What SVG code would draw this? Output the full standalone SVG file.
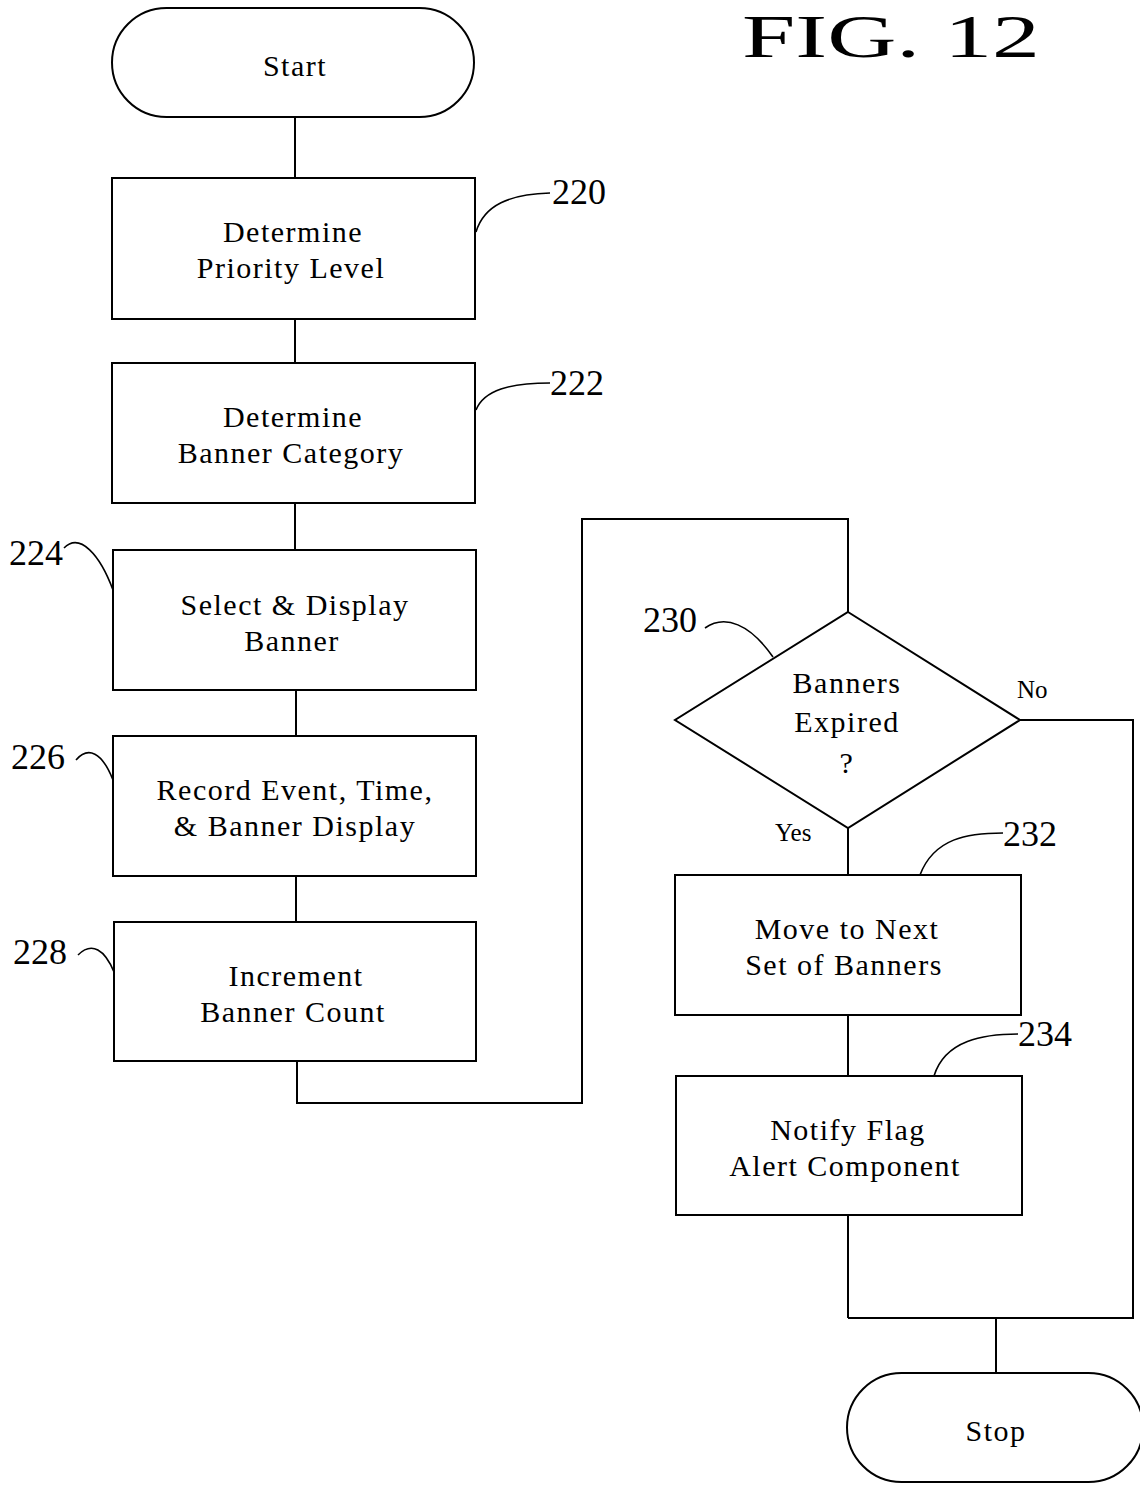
<svg xmlns="http://www.w3.org/2000/svg" width="1140" height="1485" viewBox="0 0 1140 1485">
<style>
.s{fill:#fff;stroke:#000;stroke-width:2}
.c{fill:none;stroke:#000;stroke-width:2}
.l{fill:none;stroke:#000;stroke-width:1.6}
.t{font-family:"Liberation Serif","Times New Roman",serif;font-size:30px;letter-spacing:1.5px;text-anchor:middle;fill:#000}
.r{font-family:"Liberation Serif","Times New Roman",serif;font-size:36px;fill:#000}
.y{font-family:"Liberation Serif","Times New Roman",serif;font-size:25px;fill:#000}
</style>
<rect width="1140" height="1485" fill="#fff"/>
<text x="742" y="57" font-family="Liberation Serif, Times New Roman, serif" font-size="62" textLength="298" lengthAdjust="spacingAndGlyphs">FIG. 12</text>
<g id="connectors">
<path class="c" d="M295,117 V178"/>
<path class="c" d="M295,319 V363"/>
<path class="c" d="M295,503 V550"/>
<path class="c" d="M296,690 V736"/>
<path class="c" d="M296,876 V922"/>
<path class="c" d="M297,1061 V1103 H582 V519 H848 V612"/>
<path class="c" d="M1020,720 H1133 V1318 H848"/>
<path class="c" d="M848,828 V875"/>
<path class="c" d="M848,1015 V1076"/>
<path class="c" d="M848,1215 V1318"/>
<path class="c" d="M996,1318 V1373"/>
<text class="y" x="1017" y="698">No</text>
<text class="y" x="775" y="841">Yes</text>
</g>
<g id="start">
<rect class="s" x="112" y="8" width="362" height="109" rx="54.5" ry="54.5"/>
<text class="t" x="295" y="76" letter-spacing="0">Start</text>
</g>
<g id="n220">
<rect class="s" x="112" y="178" width="363" height="141"/>
<text class="t" x="293" y="242">Determine</text>
<text class="t" x="291" y="278">Priority Level</text>
<path class="l" d="M476,232 C484,205 510,194 550,193"/>
<text class="r" x="552" y="204">220</text>
</g>
<g id="n222">
<rect class="s" x="112" y="363" width="363" height="140"/>
<text class="t" x="293" y="427">Determine</text>
<text class="t" x="291" y="463">Banner Category</text>
<path class="l" d="M476,410 C484,390 510,383 550,383"/>
<text class="r" x="550" y="395">222</text>
</g>
<g id="n224">
<rect class="s" x="113" y="550" width="363" height="140"/>
<text class="t" x="295" y="615">Select &amp; Display</text>
<text class="t" x="292" y="651">Banner</text>
<path class="l" d="M64,548 C80,532 100,555 113,590"/>
<text class="r" x="9" y="565">224</text>
</g>
<g id="n226">
<rect class="s" x="113" y="736" width="363" height="140"/>
<text class="t" x="295" y="800">Record Event, Time,</text>
<text class="t" x="295" y="836">&amp; Banner Display</text>
<path class="l" d="M76,760 C88,746 102,752 113,780"/>
<text class="r" x="11" y="769">226</text>
</g>
<g id="n228">
<rect class="s" x="114" y="922" width="362" height="139"/>
<text class="t" x="296" y="986">Increment</text>
<text class="t" x="293" y="1022">Banner Count</text>
<path class="l" d="M78,955 C92,941 105,950 114,972"/>
<text class="r" x="13" y="964">228</text>
</g>
<g id="n230">
<polygon class="s" points="848,612 1020,720 848,828 675,720"/>
<text class="t" x="847" y="693">Banners</text>
<text class="t" x="847" y="732">Expired</text>
<text class="t" x="847" y="773">?</text>
<path class="l" d="M705,628 C725,614 750,624 773,657"/>
<text class="r" x="643" y="632">230</text>
</g>
<g id="n232">
<rect class="s" x="675" y="875" width="346" height="140"/>
<text class="t" x="847" y="939">Move to Next</text>
<text class="t" x="844" y="975">Set of Banners</text>
<path class="l" d="M1003,833 C968,833 934,838 920,875"/>
<text class="r" x="1003" y="846">232</text>
</g>
<g id="n234">
<rect class="s" x="676" y="1076" width="346" height="139"/>
<text class="t" x="848" y="1140">Notify Flag</text>
<text class="t" x="845" y="1176">Alert Component</text>
<path class="l" d="M1018,1034 C984,1034 945,1040 934,1076"/>
<text class="r" x="1018" y="1046">234</text>
</g>
<g id="stop">
<rect class="s" x="847" y="1373" width="296" height="109" rx="54.5" ry="54.5"/>
<text class="t" x="996" y="1441" letter-spacing="0">Stop</text>
</g>
</svg>
